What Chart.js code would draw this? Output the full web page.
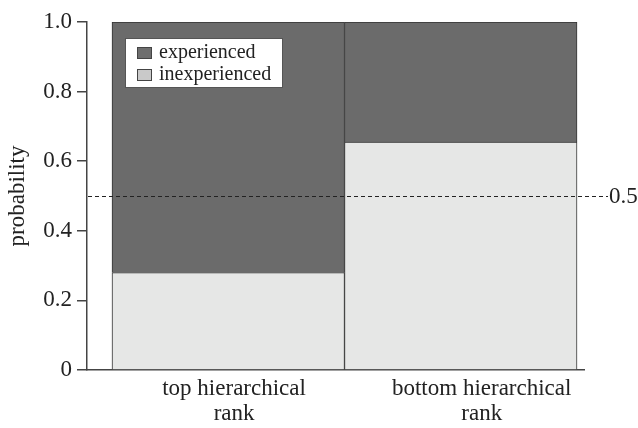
<!DOCTYPE html>
<html>
<head>
<meta charset="utf-8">
<script src="https://cdn.jsdelivr.net/npm/chart.js@4/dist/chart.umd.min.js"></script>
<style>
html,body{margin:0;padding:0;background:#fff;}
#wrap{width:638px;height:428px;}
</style>
</head>
<body>
<div id="wrap"><canvas id="c" width="638" height="428"></canvas></div>
<script>
// ---- data ----
const categories = [["top hierarchical", "rank"], ["bottom hierarchical", "rank"]];
const categoryX = [0, 1];
const inexperienced = [0.28, 0.655];
const experienced = [0.72, 0.345];
const seriesNames = ["experienced", "inexperienced"];
const yTicks = [0, 0.2, 0.4, 0.6, 0.8, 1.0];
const threshold = 0.5;

const FONT = "'Liberation Serif', 'Times New Roman', serif";
const darkFill = '#6b6b6b';
const lightFill = '#e6e7e6';
const darkSwatch = '#6e6e6e';
const lightSwatch = '#c9c9c9';
const axisColor = '#444';

const legendPlugin = {
  id: 'insideLegend',
  afterDraw(chart) {
    const ctx = chart.ctx;
    const a = chart.chartArea;
    const x0 = a.left + 38, y0 = a.top + 16, w = 157, h = 49;
    ctx.save();
    ctx.fillStyle = '#fff';
    ctx.fillRect(x0, y0, w, h);
    ctx.strokeStyle = '#555';
    ctx.lineWidth = 1;
    ctx.strokeRect(x0 + 0.5, y0 + 0.5, w, h);
    const swatches = [darkSwatch, lightSwatch];
    ctx.font = '20px ' + FONT;
    ctx.textBaseline = 'middle';
    ctx.textAlign = 'left';
    seriesNames.forEach((name, i) => {
      const cy = y0 + 15 + i * 22;
      ctx.fillStyle = swatches[i];
      ctx.fillRect(x0 + 12, cy - 6, 15, 12);
      ctx.strokeStyle = '#444';
      ctx.strokeRect(x0 + 12.5, cy - 5.5, 14, 11);
      ctx.fillStyle = '#222';
      ctx.fillText(name, x0 + 34, cy);
    });
    ctx.restore();
  }
};

const thresholdPlugin = {
  id: 'threshold',
  afterDatasetsDraw(chart) {
    const ctx = chart.ctx;
    const a = chart.chartArea;
    const y = Math.round(chart.scales.y.getPixelForValue(threshold)) + 0.5;
    ctx.save();
    ctx.strokeStyle = '#222';
    ctx.lineWidth = 1;
    ctx.setLineDash([4, 3]);
    ctx.beginPath();
    ctx.moveTo(a.left + 1, y);
    ctx.lineTo(a.right + 24, y);
    ctx.stroke();
    ctx.setLineDash([]);
    ctx.fillStyle = '#222';
    ctx.font = '23px ' + FONT;
    ctx.textBaseline = 'middle';
    ctx.textAlign = 'left';
    ctx.fillText(String(threshold), a.right + 25, y);
    ctx.restore();
  }
};

new Chart(document.getElementById('c'), {
  type: 'bar',
  data: {
    datasets: [
      {
        label: seriesNames[1],
        data: categoryX.map((x, i) => ({x: x, y: inexperienced[i]})),
        backgroundColor: lightFill,
        borderColor: '#333',
        borderWidth: 1,
        barPercentage: 1,
        categoryPercentage: 1
      },
      {
        label: seriesNames[0],
        data: categoryX.map((x, i) => ({x: x, y: experienced[i]})),
        backgroundColor: darkFill,
        borderColor: '#333',
        borderWidth: 1,
        barPercentage: 1,
        categoryPercentage: 1
      }
    ]
  },
  options: {
    responsive: false,
    animation: false,
    layout: {padding: {top: 22, right: 54, bottom: 0, left: 0}},
    plugins: {legend: {display: false}, tooltip: {enabled: false}},
    scales: {
      x: {
        type: 'linear',
        stacked: true,
        offset: false,
        min: -0.6075,
        max: 1.53,
        afterBuildTicks(scale) {
          scale.ticks = [0.025, 1.09].map(v => ({value: v}));
        },
        afterFit(scale) { scale.height = 58; },
        grid: {display: false, drawTicks: false, offset: false},
        border: {display: true, color: axisColor, width: 1.5},
        ticks: {
          autoSkip: false,
          maxRotation: 0,
          padding: 6,
          color: '#222',
          font: {family: FONT, size: 23, lineHeight: 1.1},
          callback: (v, i) => categories[i]
        }
      },
      y: {
        stacked: true,
        min: 0,
        max: 1,
        afterBuildTicks(scale) {
          scale.ticks = yTicks.map(v => ({value: v}));
        },
        afterFit(scale) { scale.width = 87; },
        grid: {display: true, drawOnChartArea: false, drawTicks: true, tickLength: 10, color: axisColor, lineWidth: 1.5},
        border: {display: true, color: axisColor, width: 1.5},
        title: {display: true, text: 'probability', color: '#222', font: {family: FONT, size: 23}, padding: {top: 4, bottom: 0}},
        ticks: {
          padding: 5,
          color: '#222',
          font: {family: FONT, size: 23},
          callback: v => (v === 0 ? '0' : Number(v).toFixed(1))
        }
      }
    }
  },
  plugins: [thresholdPlugin, legendPlugin]
});
</script>
</body>
</html>
